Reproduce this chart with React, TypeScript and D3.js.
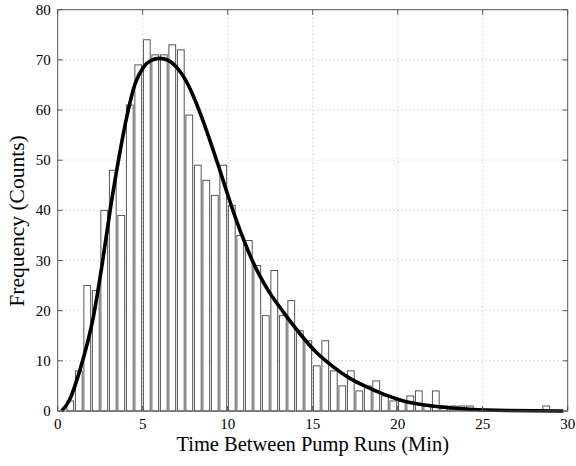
import React, { useEffect, useRef } from 'react';
import * as d3 from 'd3';

// Histogram: 0.5 min bins, first bin centred at 0.74 min
const binStart = 0.74;
const binWidth = 0.5;
const counts = [
  2, 8, 25, 24, 40, 48, 39, 61, 69, 74,
  71, 71, 73, 72, 59, 49, 46, 43, 49, 41,
  35, 34, 29, 19, 28, 19, 22, 16, 14, 9,
  14, 8, 5, 8, 4, 5, 6, 3, 2, 2,
  3, 4, 1, 4, 1, 1, 1, 1, 0, 0,
  0, 0, 0, 0, 0, 0, 1,
];

// Fitted curve, points
const fitX = [0.23, 0.65, 1.31, 2.1, 2.59, 3.08, 3.57, 4.06, 4.55, 5.04, 5.5, 6.0, 6.5, 7.0, 7.5, 8.0, 8.5, 9.0, 9.5, 10.0, 10.5, 11.0, 11.5, 12.3, 13.3, 14.25, 15.24, 16.21, 17.19, 18.18, 19.2, 20.33, 22.3, 24.25, 26.5, 29.74];
const fitY = [0, 1.9, 8.2, 18.8, 28.7, 39.9, 49.9, 58.6, 65.2, 68.5, 69.9, 70.3, 69.9, 68.5, 66.1, 62.6, 58.3, 53.5, 48.4, 43.1, 38.1, 33.6, 29.6, 24.5, 19.6, 15.4, 11.6, 8.8, 6.5, 4.8, 3.3, 2.0, 0.9, 0.35, 0.1, 0];

const xTicks = [0, 5, 10, 15, 20, 25, 30];
const yTicks = [0, 10, 20, 30, 40, 50, 60, 70, 80];

const xLabel = 'Time Between Pump Runs (Min)';
const yLabel = 'Frequency (Counts)';

const App = () => {
  const svgRef = useRef<SVGSVGElement>(null);

  useEffect(() => {
    const width = 576;
    const height = 466;
    const margin = { top: 9.7, right: 8.3, bottom: 55, left: 57.7 };
    const font = '"Liberation Serif", "Times New Roman", serif';

    const svg = d3.select(svgRef.current);
    svg.selectAll('*').remove();
    svg.attr('width', width).attr('height', height);

    const x = d3.scaleLinear().domain([0, 30]).range([margin.left, width - margin.right]);
    const y = d3.scaleLinear().domain([0, 80]).range([height - margin.bottom, margin.top]);

    const [x0, x1] = x.range();
    const [y0, y1] = y.range();

    svg.append('rect').attr('width', width).attr('height', height).attr('fill', 'white');

    // Grid
    const grid = svg.append('g').attr('stroke', '#b0b0b0').attr('stroke-width', 0.8).attr('stroke-dasharray', '1,3');
    grid.selectAll('.gx').data(xTicks.slice(1, -1)).enter().append('line')
      .attr('x1', (d) => x(d)).attr('x2', (d) => x(d)).attr('y1', y0).attr('y2', y1);
    grid.selectAll('.gy').data(yTicks.slice(1, -1)).enter().append('line')
      .attr('y1', (d) => y(d)).attr('y2', (d) => y(d)).attr('x1', x0).attr('x2', x1);

    // Bars
    const barW = binWidth * 0.8;
    svg.append('g').selectAll('rect').data(counts).enter().append('rect')
      .attr('x', (d, i) => x(binStart + i * binWidth - barW / 2))
      .attr('y', (d) => y(d))
      .attr('width', (d, i) => x(binStart + i * binWidth + barW / 2) - x(binStart + i * binWidth - barW / 2))
      .attr('height', (d) => y(0) - y(d))
      .attr('fill', 'white')
      .attr('stroke', '#444')
      .attr('stroke-width', 0.9);

    // Fitted curve
    const pts = fitX.map((v, i) => [v, fitY[i]] as [number, number]);
    const line = d3.line<[number, number]>()
      .x((d) => x(d[0]))
      .y((d) => y(d[1]))
      .curve(d3.curveMonotoneX);
    svg.append('path').datum(pts)
      .attr('fill', 'none').attr('stroke', 'black').attr('stroke-width', 3.6)
      .attr('stroke-linejoin', 'round').attr('d', line);

    // Frame and ticks
    const frame = svg.append('g').attr('stroke', '#555').attr('stroke-width', 1).attr('fill', 'none');
    frame.append('rect').attr('x', x0).attr('y', y1).attr('width', x1 - x0).attr('height', y0 - y1);
    const tl = 5;
    xTicks.forEach((t) => {
      frame.append('line').attr('x1', x(t)).attr('x2', x(t)).attr('y1', y0).attr('y2', y0 - tl);
      frame.append('line').attr('x1', x(t)).attr('x2', x(t)).attr('y1', y1).attr('y2', y1 + tl);
    });
    yTicks.forEach((t) => {
      frame.append('line').attr('y1', y(t)).attr('y2', y(t)).attr('x1', x0).attr('x2', x0 + tl);
      frame.append('line').attr('y1', y(t)).attr('y2', y(t)).attr('x1', x1).attr('x2', x1 - tl);
    });

    // Tick labels
    svg.append('g').selectAll('text').data(xTicks).enter().append('text')
      .attr('x', (d) => x(d)).attr('y', y0 + 18)
      .attr('text-anchor', 'middle').attr('font-family', font).attr('font-size', 15)
      .text((d) => d);
    svg.append('g').selectAll('text').data(yTicks).enter().append('text')
      .attr('x', x0 - 7).attr('y', (d) => y(d) + 5)
      .attr('text-anchor', 'end').attr('font-family', font).attr('font-size', 15)
      .text((d) => d);

    // Axis labels
    svg.append('text')
      .attr('x', (x0 + x1) / 2).attr('y', 451)
      .attr('text-anchor', 'middle').attr('font-family', font).attr('font-size', 20.5)
      .text(xLabel);
    svg.append('text')
      .attr('transform', `translate(24,221) rotate(-90)`)
      .attr('text-anchor', 'middle').attr('font-family', font).attr('font-size', 21.5)
      .text(yLabel);
  }, []);

  return (
    <div style={{ position: 'absolute', left: 0, top: 0 }}>
      <svg ref={svgRef}></svg>
    </div>
  );
};

export default App;
